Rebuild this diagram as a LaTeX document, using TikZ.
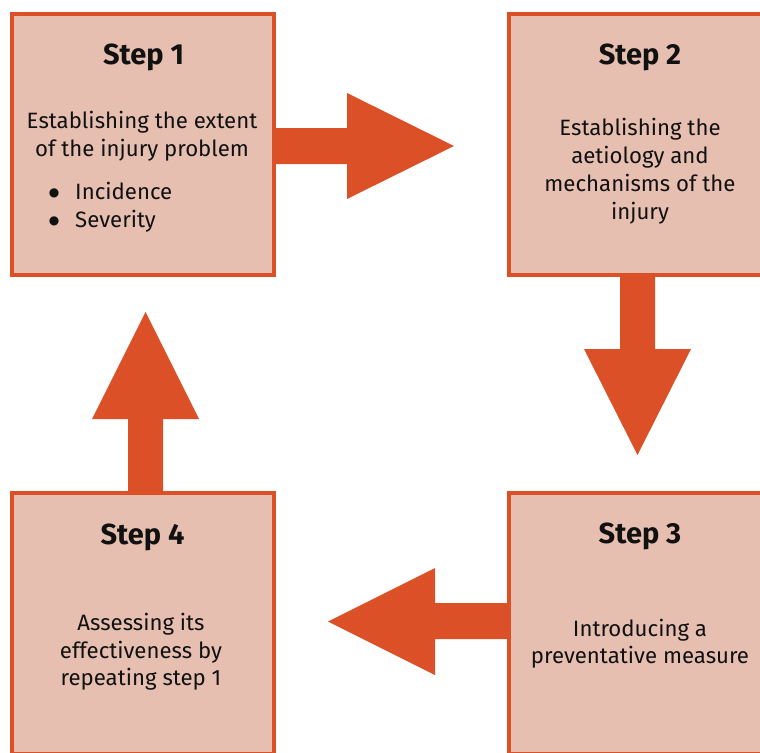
\documentclass[tikz,border=0pt]{standalone}
\usepackage{fontspec}
\setmainfont{Fira Sans}
\newfontfamily\dotfont{DejaVu Sans}
\definecolor{boxfill}{HTML}{E6BFB1}
\definecolor{accent}{HTML}{DB5026}
\definecolor{ink}{HTML}{111111}
\begin{document}
\begin{tikzpicture}[x=1pt,y=-1pt,
  stepbox/.style={draw=accent,line width=4pt,fill=boxfill,rectangle,inner sep=0pt,
    minimum width=262pt,minimum height=261pt},
  titletext/.style={anchor=base,inner sep=0pt,text=ink,font=\fontsize{29}{34}\selectfont\bfseries},
  bodytext/.style={anchor=base,inner sep=0pt,text=ink,font=\fontsize{22.2}{28}\selectfont},
  bullettext/.style={anchor=base west,inner sep=0pt,text=ink,font=\fontsize{22.2}{28}\selectfont},
  bulletdot/.style={anchor=base,inner sep=0pt,text=ink,font=\dotfont\fontsize{12}{14}\selectfont},
  fatarrow/.style={fill=accent,draw=none}]
\useasboundingbox (0,0) rectangle (760,752);
\clip (0,0) rectangle (760,752);
\fill[white] (0,0) rectangle (760,752);
% boxes
\node[stepbox] (s1) at (143,144.5) {};
\node[stepbox] (s2) at (640,144.5) {};
\node[stepbox] (s3) at (640,623.5) {};
\node[stepbox] (s4) at (143,623.5) {};
% arrows
\fill[fatarrow] (s1.east |- 0,128) -- (347,128) -- (347,93) -- (454,146) -- (347,199) -- (347,164) -- (s1.east |- 0,164) -- cycle;
\fill[fatarrow] (620,0 |- s2.south) -- (620,349) -- (584,349) -- (637.5,455) -- (691,349) -- (655,349) -- (655,0 |- s2.south) -- cycle;
\fill[fatarrow] (s3.west |- 0,603) -- (435,603) -- (435,568) -- (328,621.5) -- (435,675) -- (435,639) -- (s3.west |- 0,639) -- cycle;
\fill[fatarrow] (128,0 |- s4.north) -- (128,419) -- (92,419) -- (145.5,312) -- (199,419) -- (163,419) -- (163,0 |- s4.north) -- cycle;
% step 1
\node[titletext] (t1) at (143.5,65) {Step 1};
\node[bodytext] (b1a) at (142,128) {Establishing the extent};
\node[bodytext] (b1b) at (142,156) {of the injury problem};
\node[bulletdot] (d1a) at (54,196) {●};
\node[bullettext] (i1a) at (75,199) {Incidence};
\node[bulletdot] (d1b) at (54,224) {●};
\node[bullettext] (i1b) at (75,227) {Severity};
% step 2
\node[titletext] (t2) at (640,65) {Step 2};
\node[bodytext] (b2a) at (640,135) {Establishing the};
\node[bodytext] (b2b) at (640,163) {aetiology and};
\node[bodytext] (b2c) at (640,191) {mechanisms of the};
\node[bodytext] (b2d) at (640,219) {injury};
% step 3
\node[titletext] (t3) at (640,543) {Step 3};
\node[bodytext] (b3a) at (640,636) {Introducing a};
\node[bodytext] (b3b) at (640,663) {preventative measure};
% step 4
\node[titletext] (t4) at (142.5,544) {Step 4};
\node[bodytext] (b4a) at (141,630) {Assessing its};
\node[bodytext] (b4b) at (141,658) {effectiveness by};
\node[bodytext] (b4c) at (141,685) {repeating step 1};
\end{tikzpicture}
\end{document}
